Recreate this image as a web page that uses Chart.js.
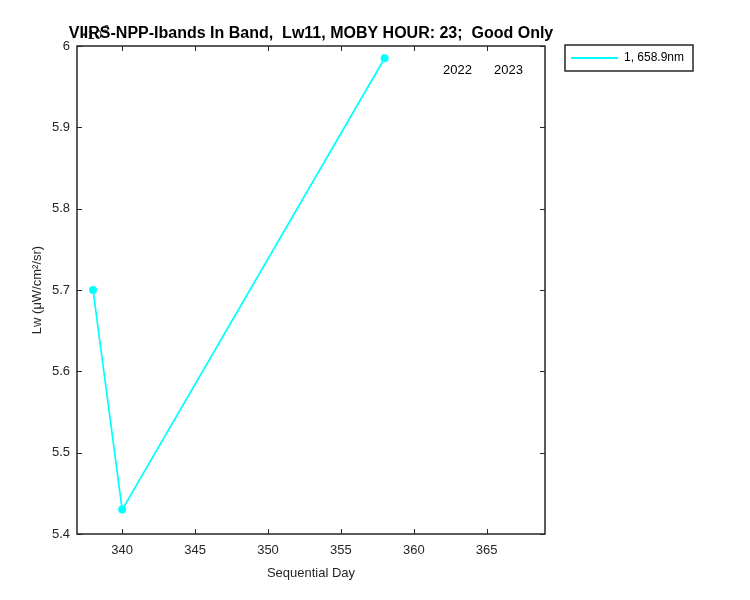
<!DOCTYPE html>
<html>
<head>
<meta charset="utf-8">
<script src="https://cdn.jsdelivr.net/npm/chart.js@4/dist/chart.umd.min.js"></script>
<style>
  body { margin: 0; background: #fff; }
  #wrap { width: 750px; height: 600px; }
</style>
</head>
<body>
<div id="wrap"><canvas id="chart1"></canvas></div>
<script>
// data
const days = [338, 340, 358];
const lwValues = [5.70, 5.43, 5.985];
const seriesLabel = "1, 658.9nm";
const xTicks = [340, 345, 350, 355, 360, 365];
const yTicks = [5.4, 5.5, 5.6, 5.7, 5.8, 5.9, 6];
const yearLabels = ["2022", "2023"];
const yearDays = [362, 365.5];
const yearLevel = 5.97;
const titleText = "VIIRS-NPP-Ibands In Band,  Lw11, MOBY HOUR: 23;  Good Only";
const xTitle = "Sequential Day";
const yTitle = "Lw (\u03bcW/cm\u00b2/sr)";

const FONT = "'Liberation Sans', Arial, sans-serif";
const AXIS_COLOR = "#262626";

// MATLAB-like box with inward ticks, titles, year text and legend
const matlabLook = {
    id: "matlabLook",
    beforeDraw(chart) {
        // leftover exponent label hidden behind the title
        const ctx = chart.ctx;
        ctx.save();
        ctx.fillStyle = AXIS_COLOR;
        ctx.font = "13px " + FONT;
        ctx.textBaseline = "middle";
        ctx.fillText("\u00d710", 80, 35);
        ctx.font = "9px " + FONT;
        ctx.fillText("3", 104, 29);
        ctx.restore();
    },
    afterDraw(chart) {
        const ctx = chart.ctx;
        const a = chart.chartArea;
        const xs = chart.scales.x, ys = chart.scales.y;
        ctx.save();
        ctx.strokeStyle = AXIS_COLOR;
        ctx.lineWidth = 1.5;
        ctx.strokeRect(a.left, a.top, a.right - a.left, a.bottom - a.top);
        ctx.lineWidth = 1;
        ctx.beginPath();
        xTicks.forEach(v => {
            const px = Math.round(xs.getPixelForValue(v)) + 0.5;
            ctx.moveTo(px, a.bottom); ctx.lineTo(px, a.bottom - 5);
            ctx.moveTo(px, a.top); ctx.lineTo(px, a.top + 5);
        });
        yTicks.forEach(v => {
            const py = Math.round(ys.getPixelForValue(v)) + 0.5;
            ctx.moveTo(a.left, py); ctx.lineTo(a.left + 5, py);
            ctx.moveTo(a.right, py); ctx.lineTo(a.right - 5, py);
        });
        ctx.stroke();

        // title
        const cx = (a.left + a.right) / 2;
        ctx.fillStyle = "#000";
        ctx.font = "bold 16px " + FONT;
        ctx.textAlign = "center";
        ctx.textBaseline = "middle";
        ctx.fillText(titleText, cx, 34);

        // axis titles
        ctx.fillStyle = AXIS_COLOR;
        ctx.font = "13px " + FONT;
        ctx.fillText(xTitle, cx, 573);
        ctx.save();
        ctx.translate(37, (a.top + a.bottom) / 2);
        ctx.rotate(-Math.PI / 2);
        ctx.fillText(yTitle, 0, 0);
        ctx.restore();

        // year text
        ctx.fillStyle = "#000";
        ctx.textAlign = "left";
        yearLabels.forEach((t, i) => {
            ctx.fillText(t, xs.getPixelForValue(yearDays[i]), ys.getPixelForValue(yearLevel));
        });

        // legend box
        const ds = chart.data.datasets[0];
        ctx.fillStyle = "#fff";
        ctx.fillRect(565, 45, 128, 26);
        ctx.strokeStyle = AXIS_COLOR;
        ctx.lineWidth = 1.5;
        ctx.strokeRect(565, 45, 128, 26);
        ctx.strokeStyle = ds.borderColor;
        ctx.lineWidth = 2;
        ctx.beginPath();
        ctx.moveTo(571, 58); ctx.lineTo(618, 58);
        ctx.stroke();
        ctx.fillStyle = "#000";
        ctx.font = "12px " + FONT;
        ctx.fillText(ds.label, 624, 58);
        ctx.restore();
    }
};

new Chart(document.getElementById("chart1"), {
    type: "line",
    data: {
        datasets: [{
            label: seriesLabel,
            data: days.map((d, i) => ({ x: d, y: lwValues[i] })),
            borderColor: "#00ffff",
            backgroundColor: "#00ffff",
            borderWidth: 1.7,
            pointRadius: 4,
            pointHoverRadius: 4,
            pointBorderWidth: 0,
            tension: 0
        }]
    },
    options: {
        responsive: true,
        maintainAspectRatio: false,
        animation: false,
        events: [],
        layout: { padding: { left: 0, top: 46, right: 205, bottom: 0 } },
        plugins: {
            legend: { display: false },
            tooltip: { enabled: false },
            title: { display: false }
        },
        scales: {
            x: {
                type: "linear",
                min: 336.9,
                max: 369,
                afterBuildTicks: s => { s.ticks = xTicks.map(v => ({ value: v })); },
                afterFit: s => { s.height = 66; },
                grid: { display: false, drawTicks: false },
                border: { display: false },
                ticks: { color: AXIS_COLOR, padding: 9, maxRotation: 0, font: { family: FONT, size: 13 } }
            },
            y: {
                min: 5.4,
                max: 6,
                afterBuildTicks: s => { s.ticks = yTicks.map(v => ({ value: v })); },
                afterFit: s => { s.width = 77; },
                grid: { display: false, drawTicks: false },
                border: { display: false },
                ticks: { color: AXIS_COLOR, padding: 7, font: { family: FONT, size: 13 }, callback: v => String(v) }
            }
        }
    },
    plugins: [matlabLook]
});
</script>
</body>
</html>
